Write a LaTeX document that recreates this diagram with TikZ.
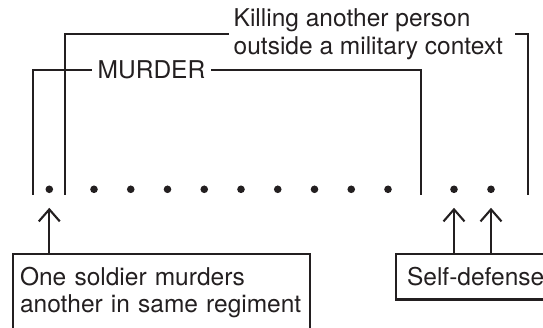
\documentclass[tikz,border=0pt]{standalone}
\usepackage{fontspec}
\setmainfont{TeX Gyre Heros}
\usetikzlibrary{arrows.meta}
\definecolor{ink}{HTML}{231F20}
\begin{document}
\begin{tikzpicture}[x=1pt,y=-1pt,
  line/.style={draw=ink,line width=2.1pt},
  lbl/.style={font=\fontsize{24.5}{27.5}\selectfont,text=ink},
  dot/.style={circle,fill=ink,inner sep=0pt,minimum size=7.6pt},
  arr/.style={line,shorten >=14.5pt,-{Straight Barb[length=12pt,width=21pt]}},
  tag/.style={lbl,draw=ink,line width=2.1pt}]
\useasboundingbox (0,0) rectangle (543,328);
\begin{scope}
\clip (0,0) rectangle (543,328);

% row of cases
\node[dot] (d1) at (49.3,189.3) {};
\foreach \i [evaluate=\i as \xx using 94+36.75*(\i-2)] in {2,...,10}
  \node[dot] (d\i) at (\xx,189.3) {};
\node[dot] (d11) at (454,189.3) {};
\node[dot] (d12) at (491,189.3) {};

% outer bracket: killing outside a military context
\node[lbl,align=left,anchor=west,inner xsep=5pt,inner ysep=0pt] (killing)
  at (228.5,34.4) {Killing another person\\outside a military context};
\coordinate (kBL) at (65,195);
\coordinate (kTR) at (515,34.4);
\coordinate (kBR) at (528,195);
\draw[line] (kBL) |- (killing.west);
\draw[line] (kTR) -| (kBR);

% inner bracket: murder
\node[lbl,inner xsep=6pt,inner ysep=0pt] (murder) at (151.5,70) {MURDER};
\coordinate (mBL) at (32.7,195);
\coordinate (mBR) at (421,195);
\draw[line] (mBL) |- (murder.west);
\draw[line] (murder.east) -| (mBR);

% labelled examples
\node[tag,anchor=north west,align=left,text width=283pt,inner xsep=7pt,inner ysep=13pt]
  (soldier) at (12,253) {One soldier murders\\another in same regiment};
\node[tag,anchor=north west,inner xsep=11pt,inner ysep=0pt,minimum height=45.5pt]
  (selfdef) at (395,253) {Self-defense};

\draw[arr] (soldier.north -| d1) -- (d1);
\draw[arr] (selfdef.north -| d11) -- (d11);
\draw[arr] (selfdef.north -| d12) -- (d12);
\end{scope}
\end{tikzpicture}
\end{document}
